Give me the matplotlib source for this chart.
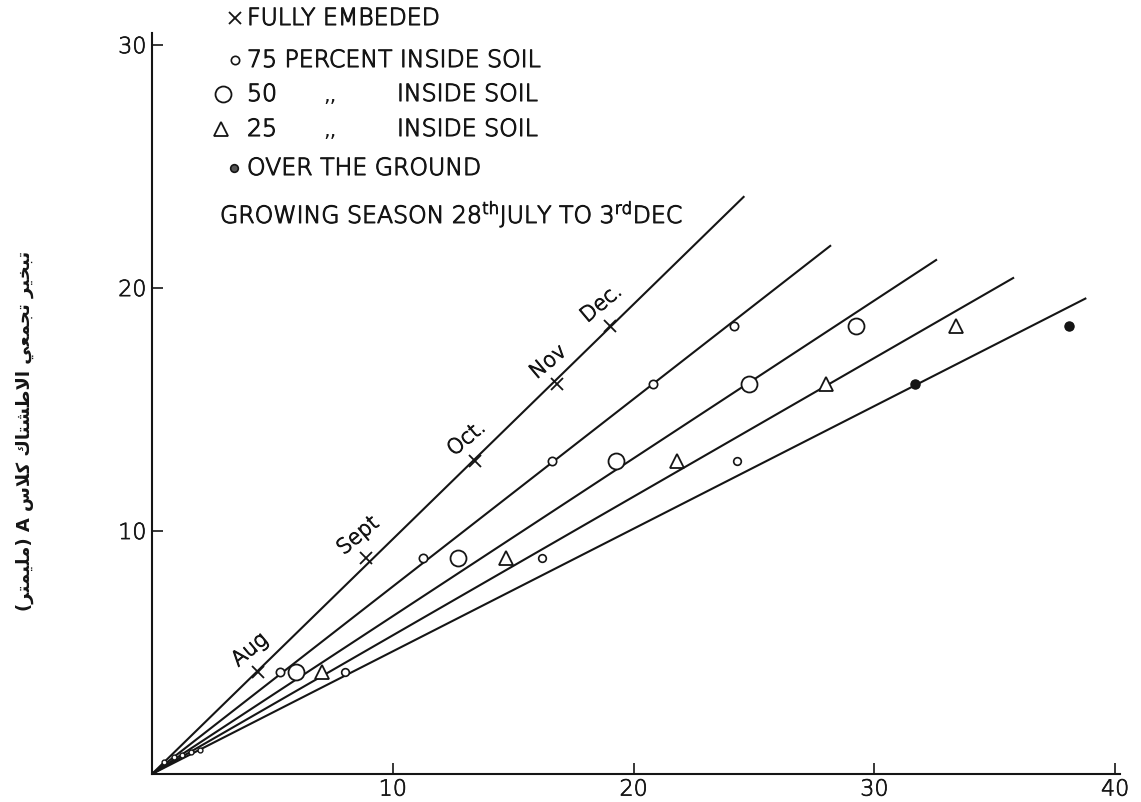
import numpy as np
import matplotlib
matplotlib.use("Agg")
import matplotlib.pyplot as plt
import matplotlib.patheffects as pe

plt.rcParams['font.family'] = ['DejaVu Sans']
plt.rcParams['font.weight'] = 'light'

# Cumulative class A pan evaporation at the end of each month (y axis)
pan_evap = [4.2, 8.9, 12.9, 16.05, 18.45]
months = ["Aug", "Sept", "Oct.", "Nov", "Dec."]

# Cumulative evaporation of the buried pans (x axis), one list per burial depth
fully_embedded = [4.4, 8.9, 13.4, 16.8, 19.0]
inside_75 = [5.3, 11.25, 16.6, 20.8, 24.15]
inside_50 = [6.0, 12.7, 19.25, 24.8, 29.25]
inside_25 = [7.05, 14.7, 21.8, 28.0, 33.4]
over_ground = [8.0, 16.2, 24.3, 31.7, 38.1]

# First few days of the season (the cluster at the origin)
early_y = [0.5, 0.7, 0.8, 0.9, 1.0]
early_x = [0.5, 0.9, 1.25, 1.6, 2.0]

series = [fully_embedded, inside_75, inside_50, inside_25, over_ground]
line_end = [24.6, 28.2, 32.6, 35.8, 38.8]

INK = '#151515'
# Thin pen lettering: light face with a slight outline to keep it dark
PEN = [pe.withStroke(linewidth=0.8, foreground=INK)]

fig = plt.figure(figsize=(11.41, 8.02), dpi=100)
ax = fig.add_axes([0.1332, 0.0349, 0.8484, 0.924])
ax.set_xlim(0, 40.2)
ax.set_ylim(0, 30.5)

# Fitted lines through the origin
y = np.array(pan_evap)
for xs, xe in zip(series, line_end):
    x = np.array(xs)
    slope = np.sum(x * y) / np.sum(x * x)
    ax.plot([0, xe], [0, slope * xe], color=INK, lw=1.5, solid_capstyle='butt', zorder=2)

marker_styles = [
    dict(marker='x', ms=8, mew=1.3, mfc='none'),
    dict(marker='o', ms=6, mew=1.2, mfc='white'),
    dict(marker='o', ms=11.5, mew=1.3, mfc='white'),
    dict(marker='^', ms=10, mew=1.3, mfc='white'),
    dict(marker='o', ms=5.5, mew=1.2, mfc='white'),
]
for xs, st in zip(series, marker_styles):
    ax.plot(xs, pan_evap, ls='none', color=INK, mec=INK, zorder=3, **st)

# Earliest readings crowd near the origin, drawn small
ax.plot(early_x, early_y, ls='none', marker='o', ms=3.5, mew=1.0,
        mfc='white', color=INK, mec=INK, zorder=3)

# The last two over-the-ground readings are solid dots
ax.plot(over_ground[3:], pan_evap[3:], ls='none', marker='o', ms=6.5,
        color=INK, mec=INK, mfc=INK, zorder=4)

# Month names along the fully embedded line
for m, xv, yv in zip(months, fully_embedded, pan_evap):
    ax.annotate(m, (xv, yv), xytext=(-6, 16), textcoords='offset points',
                ha='center', va='center', rotation=40, fontsize=15, color=INK,
                path_effects=PEN)

# Axes styling
for side in ['top', 'right']:
    ax.spines[side].set_visible(False)
for side in ['left', 'bottom']:
    ax.spines[side].set_linewidth(1.5)
    ax.spines[side].set_color(INK)
ax.set_xticks([10, 20, 30, 40])
ax.set_yticks([10, 20, 30])
ax.tick_params(direction='in', length=8, width=1.2, color=INK,
               labelsize=16, labelcolor=INK, pad=4)
for lab in ax.get_xticklabels() + ax.get_yticklabels():
    lab.set_path_effects([pe.withStroke(linewidth=0.5, foreground=INK)])

# Key drawn in figure coordinates
W, H = 1141.0, 802.0


def fx(px):
    return px / W


def fy(py):
    return 1 - py / H


key_rows = [
    (235, 18, marker_styles[0], "FULLY EMBEDED"),
    (235, 60, marker_styles[1], "75 PERCENT INSIDE SOIL"),
    (223, 94, marker_styles[2], "50"),
    (221, 129, marker_styles[3], "25"),
    (234, 168, dict(marker='o', ms=5.5, mew=1.2, mfc='#555555'), "OVER THE GROUND"),
]
for mxp, ryp, st, label in key_rows:
    fig.add_artist(plt.Line2D([fx(mxp)], [fy(ryp)], ls='none', color=INK,
                              mec=INK, transform=fig.transFigure, **st))
    fig.text(fx(247), fy(ryp), label, ha='left', va='center', fontsize=17,
             color=INK, path_effects=PEN)
for ryp in (94, 129):
    fig.text(fx(330), fy(ryp + 2), ",,", ha='center', va='center', fontsize=15,
             fontweight='normal', color=INK)
    fig.text(fx(397), fy(ryp), "INSIDE SOIL", ha='left', va='center', fontsize=17,
             color=INK, path_effects=PEN)

fig.text(fx(220), fy(214), r"GROWING SEASON 28$^{\mathrm{th}}$JULY TO 3$^{\mathrm{rd}}$DEC",
         ha='left', va='center', fontsize=17, color=INK, path_effects=PEN)

# Arabic axis title: contextual letter forms and right-to-left ordering
AR_FORMS = {
    'ا': (0xFE8D, 0xFE8E, None, None),
    'ب': (0xFE8F, 0xFE90, 0xFE91, 0xFE92),
    'ت': (0xFE95, 0xFE96, 0xFE97, 0xFE98),
    'ج': (0xFE9D, 0xFE9E, 0xFE9F, 0xFEA0),
    'خ': (0xFEA5, 0xFEA6, 0xFEA7, 0xFEA8),
    'ر': (0xFEAD, 0xFEAE, None, None),
    'س': (0xFEB1, 0xFEB2, 0xFEB3, 0xFEB4),
    'ش': (0xFEB5, 0xFEB6, 0xFEB7, 0xFEB8),
    'ط': (0xFEC1, 0xFEC2, 0xFEC3, 0xFEC4),
    'ع': (0xFEC9, 0xFECA, 0xFECB, 0xFECC),
    'ك': (0xFED9, 0xFEDA, 0xFEDB, 0xFEDC),
    'ل': (0xFEDD, 0xFEDE, 0xFEDF, 0xFEE0),
    'م': (0xFEE1, 0xFEE2, 0xFEE3, 0xFEE4),
    'ي': (0xFEF1, 0xFEF2, 0xFEF3, 0xFEF4),
}
LAM_ALEF = (0xFEFB, 0xFEFC)


def shape_word(word):
    units, i = [], 0
    while i < len(word):
        if word[i] == 'ل' and i + 1 < len(word) and word[i + 1] == 'ا':
            units.append('LA')
            i += 2
        else:
            units.append(word[i])
            i += 1

    def joins_next(u):
        return u in AR_FORMS and AR_FORMS[u][2] is not None

    def is_arabic(u):
        return u == 'LA' or u in AR_FORMS

    out = []
    for k, u in enumerate(units):
        prev = units[k - 1] if k > 0 else None
        nxt = units[k + 1] if k + 1 < len(units) else None
        left = prev is not None and joins_next(prev)
        if u == 'LA':
            out.append(chr(LAM_ALEF[1] if left else LAM_ALEF[0]))
            continue
        if u not in AR_FORMS:
            out.append(u)
            continue
        iso, fin, ini, med = AR_FORMS[u]
        right = nxt is not None and is_arabic(nxt) and ini is not None
        if left and right:
            out.append(chr(med))
        elif left:
            out.append(chr(fin))
        elif right:
            out.append(chr(ini))
        else:
            out.append(chr(iso))
    return ''.join(out)


def visual_rtl(text):
    vis = []
    for w in reversed(text.split(' ')):
        if any(c in AR_FORMS for c in w):
            s = shape_word(w)[::-1].translate(str.maketrans('()', ')('))
            vis.append(s)
        else:
            vis.append(w)
    return ' '.join(vis)


y_title = "تبخير تجمعي الاطشتاك كلاس A (مليمتر)"
fig.text(0.022, 0.463, visual_rtl(y_title), rotation=90, ha='center', va='center',
         fontsize=13, fontweight='bold', color=INK)

fig.savefig("out.png", dpi=100, facecolor='white')
